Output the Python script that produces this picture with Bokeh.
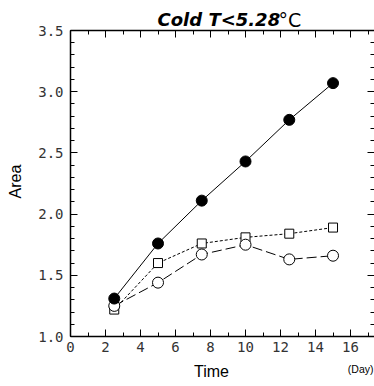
import math
from bokeh.plotting import figure
from bokeh.models import LinearAxis, Label, Range1d, FixedTicker, NumeralTickFormatter
from bokeh.embed import file_html
from bokeh.resources import INLINE
from bokeh.core.properties import value

# ---- data ----
time = [2.5, 5, 7.5, 10, 12.5, 15]
area_filled = [1.31, 1.76, 2.11, 2.43, 2.77, 3.07]
area_square = [1.22, 1.60, 1.76, 1.81, 1.84, 1.89]
area_open = [1.25, 1.44, 1.67, 1.75, 1.63, 1.66]

x_ticks = [0, 2, 4, 6, 8, 10, 12, 14, 16]
y_ticks = [1.0, 1.5, 2.0, 2.5, 3.0, 3.5]
x_minor = [i * 1.0 for i in range(0, 18)]
y_minor = [round(1.0 + i * 0.1, 2) for i in range(0, 26)]

title_main = "Cold T<5.28"
title_unit = "\u00b0C"
x_label = "Time"
x_unit = "(Day)"
y_label = "Area"

W, H = 374, 386
# axes box in canvas pixels
FL, FR, FT, FB = 70, 374, 30, 336
X0, X1 = 0.0, 17.37
Y0, Y1 = 1.0, 3.5
kx = (FR - FL) / (X1 - X0)
ky = (FB - FT) / (Y1 - Y0)

# the plotting frame spans the whole canvas so that texts outside the axes box are shown
p = figure(width=W, height=H, output_backend="svg", toolbar_location=None,
           x_range=Range1d(X0 - FL / kx, X1 + (W - FR) / kx),
           y_range=Range1d(Y0 - (H - FB) / ky, Y1 + FT / ky),
           min_border=0, x_axis_location=None, y_axis_location=None)
p.outline_line_color = None
p.xgrid.visible = False
p.ygrid.visible = False
p.background_fill_color = "white"
p.border_fill_color = "white"

tick_font = "DejaVu Sans Mono"

def style(ax, labels=True, line=True):
    ax.major_tick_in = 7
    ax.major_tick_out = 0
    ax.minor_tick_in = 4
    ax.minor_tick_out = 0
    ax.major_tick_line_color = "black"
    ax.minor_tick_line_color = "black"
    ax.major_tick_line_width = 1
    ax.minor_tick_line_width = 1
    ax.axis_line_color = "black" if line else None
    ax.axis_line_width = 1.5
    if labels:
        ax.major_label_text_font = tick_font
        ax.major_label_text_font_size = "14px"
        ax.major_label_text_color = "#333333"
    else:
        ax.major_label_text_font_size = "0px"
        ax.major_label_standoff = 0
        ax.major_label_text_color = None

bottom = LinearAxis(ticker=FixedTicker(ticks=x_ticks, minor_ticks=x_minor),
                    fixed_location=Y0, bounds=(X0, X1))
style(bottom)
bottom.major_label_standoff = 5
p.add_layout(bottom, "below")

left = LinearAxis(ticker=FixedTicker(ticks=y_ticks, minor_ticks=y_minor),
                  formatter=NumeralTickFormatter(format="0.0"),
                  fixed_location=X0, bounds=(Y0, Y1))
style(left)
left.major_label_standoff = 7
p.add_layout(left, "left")

top = LinearAxis(ticker=FixedTicker(ticks=x_ticks, minor_ticks=x_minor),
                 fixed_location=Y1, bounds=(X0, X1))
style(top, labels=False)
p.add_layout(top, "above")

right = LinearAxis(ticker=FixedTicker(ticks=y_ticks, minor_ticks=y_minor),
                   fixed_location=X1, bounds=(Y0, Y1))
style(right, labels=False, line=False)
p.add_layout(right, "right")

# lines
p.line(time, area_open, line_color="black", line_width=1, line_dash="10 4")
p.line(time, area_square, line_color="black", line_width=1, line_dash="3 2")
p.line(time, area_filled, line_color="black", line_width=1)

# markers
p.scatter(time, area_square, marker="square", size=9, fill_color="white", line_color="black", line_width=1)
p.scatter(time, area_open, marker="circle", size=11, fill_color="white", line_color="black", line_width=1)
p.scatter(time, area_filled, marker="circle", size=11, fill_color="black", line_color="black", line_width=1)

# screen units are measured from the frame's bottom-left corner (= canvas bottom-left)
def lab(px, py, text, **kw):
    p.add_layout(Label(x=px, y=H - py, x_units="screen", y_units="screen", text=text,
                       text_color="black", **kw))

lab(157, 19, title_main, text_font="DejaVu Sans", text_font_style="bold italic",
    text_font_size="18px", text_align="left", text_baseline="alphabetic")
lab(278, 19, title_unit, text_font="DejaVu Sans", text_font_style="normal",
    text_font_size="19px", text_align="left", text_baseline="alphabetic")
lab(211, 371, x_label, text_font="Liberation Sans", text_font_size="16px",
    text_align="center", text_baseline="middle")
lab(373, 368, x_unit, text_font="Liberation Sans", text_font_size="10.5px",
    text_align="right", text_baseline="middle")
lab(15, 181, y_label, text_font="Liberation Sans", text_font_size="16px",
    angle=math.pi / 2, text_align="center", text_baseline="middle")

open("out.html", "w").write(file_html(p, INLINE))
